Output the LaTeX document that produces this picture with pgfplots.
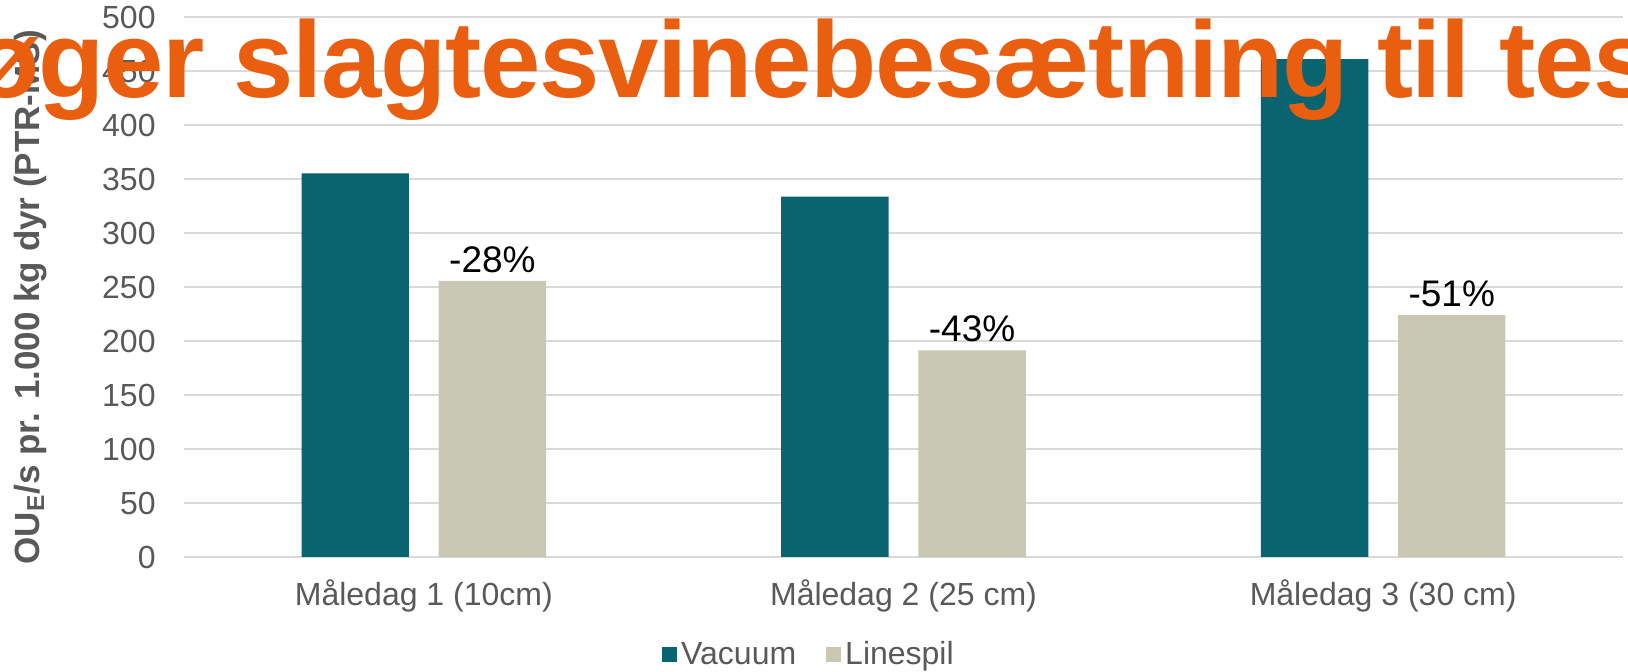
\documentclass[border=0pt]{standalone}
\usepackage{fontspec}
\setmainfont{Liberation Sans}
\usepackage{pgfplots}
\pgfplotsset{compat=1.18}
\definecolor{vac}{HTML}{09646F}
\definecolor{lin}{HTML}{C8C8B4}
\definecolor{ttl}{HTML}{E95E0F}
\definecolor{txt}{HTML}{595959}
\definecolor{grd}{HTML}{D9D9D9}
\begin{document}
\begin{tikzpicture}[x=1pt,y=1pt]
\begin{scope}
\clip (0,0) rectangle (814,336);
\begin{axis}[
  at={(92pt,57.5pt)}, anchor=south west,
  scale only axis, width=719.5pt, height=270pt,
  xmin=-0.5, xmax=2.5, ymin=0, ymax=500,
  ytick={0,50,...,500},
  xtick={0,1,2},
  xticklabels={Måledag 1 (10cm),Måledag 2 (25 cm),Måledag 3 (30 cm)},
  axis line style={draw=none},
  major tick length=0pt,
  ymajorgrids, grid style={grd, line width=0.8pt},
  /pgf/number format/assume math mode=true,
  tick label style={font=\fontsize{16}{19}\selectfont, text=txt},
  yticklabel style={anchor=east, inner sep=0pt, xshift=-14pt},
  xticklabel style={anchor=base, inner sep=0pt, yshift=-24.5pt},
  ylabel={OU\textsubscript{E}/s pr. 1.000 kg dyr (PTR-MS)},
  ylabel style={at={(axis description cs:-0.107,0.481)}, anchor=center, font=\bfseries\fontsize{17.5}{20}\selectfont, text=txt},
  legend style={at={(0.435,-0.181)}, anchor=center, draw=none, fill=none,
    legend columns=2, font=\fontsize{16}{19}\selectfont, text=txt,
    /tikz/every even column/.append style={column sep=13pt}},
  legend image code/.code={\fill[#1,draw=none] (0pt,-3.75pt) rectangle (7.5pt,3.75pt);},
  bar width=53.7pt,
]
\addplot[ybar, fill=vac, draw=none, bar shift=-34.3pt] coordinates {(0,355.3) (1,333.6) (2,461)};
\addlegendentry{Vacuum}
\addplot[ybar, fill=lin, draw=none, bar shift=34.3pt,
  point meta=explicit symbolic, nodes near coords,
  every node near coord/.append style={anchor=base, inner sep=0pt, xshift=34.3pt, yshift=4.2pt, font=\fontsize{18.5}{22}\selectfont, text=black}]
  coordinates {(0,255.6) [-28\%] (1,191.4) [-43\%] (2,224) [-51\%]};
\addlegendentry{Linespil}
\end{axis}
\node[anchor=base west, inner sep=0pt, text=ttl, font=\bfseries\fontsize{54.25}{60}\selectfont\addfontfeatures{LetterSpace=-1.2}] at (-13.5,287) {øger slagtesvinebesætning til test};
\end{scope}
\pgfresetboundingbox
\useasboundingbox (0,0) rectangle (814,336);
\end{tikzpicture}
\end{document}
